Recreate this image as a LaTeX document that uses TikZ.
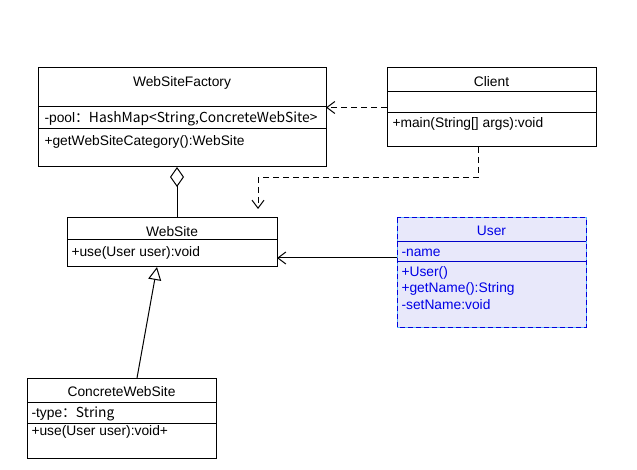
\documentclass[tikz,border=0pt]{standalone}
\usepackage{fontspec}
\setmainfont{Liberation Sans}
\newfontfamily\cjk{Noto Sans CJK SC}
\usetikzlibrary{arrows.meta}
\definecolor{userfill}{RGB}{232,232,250}
\definecolor{userborder}{RGB}{90,180,255}
\definecolor{userdash}{RGB}{0,0,220}
\definecolor{usertext}{RGB}{0,0,230}
\definecolor{userline}{RGB}{0,0,200}
\begin{document}
\begin{tikzpicture}[x=1pt,y=-1pt,font=\fontsize{13.8}{16}\selectfont,line width=1pt,
  box/.style={draw=black,fill=white,anchor=north west,inner sep=0pt,outer sep=0pt},
  lbl/.style={anchor=base west,inner sep=0pt},
  ttl/.style={anchor=base,inner sep=0pt},
  deparrow/.style={dash pattern=on 6pt off 4pt,-{Straight Barb[length=8pt,width=12pt,line width=1pt]}},
  assocarrow/.style={-{Straight Barb[length=8pt,width=12pt,line width=1pt]}},
  genarrow/.style={-{Triangle[open,length=13pt,width=13pt,fill=white]}},
  aggline/.style={{Diamond[open,length=20pt,width=14pt,fill=white]}-}]
\fill[white] (0,0) rectangle (637,470);
\useasboundingbox (0,0) rectangle (637,470);
% WebSiteFactory
\node[box,minimum width=288pt,minimum height=99pt] (factory) at (38,68) {};
\draw (38,107) -- (326,107);
\draw (38,129) -- (326,129);
\node[ttl] (factoryname) at (182,87) {WebSiteFactory};
\node[lbl] (factorypool) at (44,123) {-pool\cjk{：}HashMap<String,ConcreteWebSite>};
\node[lbl] (factoryop) at (44,146) {+getWebSiteCategory():WebSite};
% Client
\node[box,minimum width=209pt,minimum height=79pt] (client) at (387,68) {};
\draw (387,92) -- (596,92);
\draw (387,113) -- (596,113);
\node[ttl] (clientname) at (491.5,87) {Client};
\node[lbl] (clientop) at (392,128) {+main(String[] args):void};
% WebSite
\node[box,minimum width=210pt,minimum height=49pt] (website) at (67,218) {};
\draw (67,240) -- (277,240);
\node[ttl] (websitename) at (172,237) {WebSite};
\node[lbl] (websiteop) at (71,257) {+use(User user):void};
% User
\node[box,draw=userborder,fill=userfill,minimum width=189pt,minimum height=109pt] (user) at (397,218) {};
\draw[userdash,dash pattern=on 5pt off 3pt] (user.north west) rectangle (user.south east);
\draw[userline] (397,242) -- (586,242);
\draw[userline] (397,262) -- (586,262);
\begin{scope}[text=usertext]
\node[ttl] (username) at (491.5,236) {User};
\node[lbl] (userattr) at (401,257) {-name};
\node[lbl] (userop1) at (401,277) {+User()};
\node[lbl] (userop2) at (401,293) {+getName():String};
\node[lbl] (userop3) at (401,309) {-setName:void};
\end{scope}
% ConcreteWebSite
\node[box,minimum width=189pt,minimum height=80pt] (concrete) at (27,378) {};
\draw (27,402) -- (216,402);
\draw (27,423) -- (216,423);
\node[ttl] (concretename) at (121.5,396) {ConcreteWebSite};
\node[lbl] (concreteattr) at (31,417) {-type\cjk{：}String};
\node[lbl] (concreteop) at (31,435) {+use(User user):void+};
% connectors
\draw[deparrow] (client.west) -- (factory.east |- client.west);
\coordinate (cbend1) at (478,178);
\coordinate (cbend2) at (258,178);
\coordinate (cend) at (258,209);
\draw[deparrow] (client.south -| cbend1) -- (cbend1) -- (cbend2) -- (cend);
\coordinate (aggtop) at (177,167);
\draw[aggline] (aggtop) -- (website.north -| aggtop);
\coordinate (assocy) at (0,258);
\draw[assocarrow] (user.west |- assocy) -- (website.east |- assocy);
\draw[genarrow] ([xshift=15.5pt]concrete.north) -- ([xshift=-15pt]website.south);
\end{tikzpicture}
\end{document}
